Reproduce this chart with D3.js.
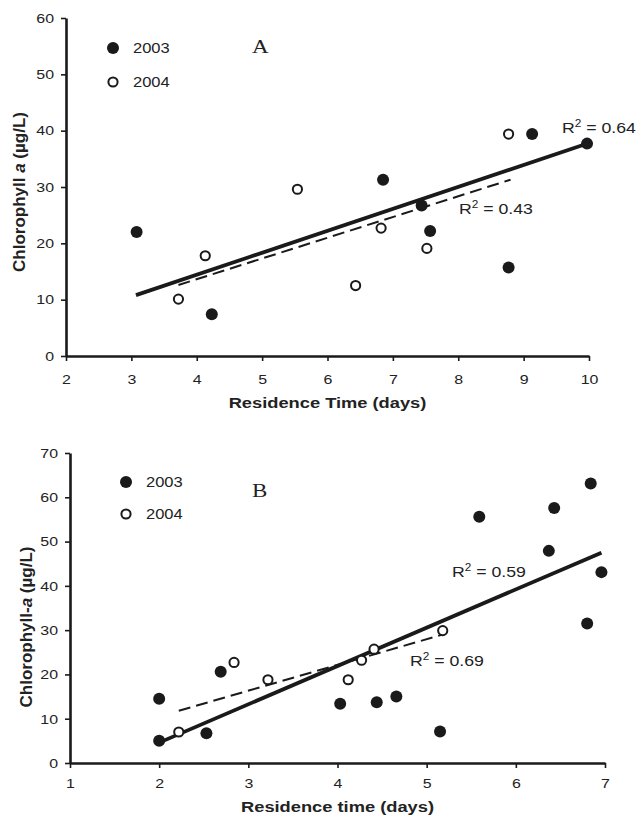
<!DOCTYPE html>
<html>
<head>
<meta charset="utf-8">
<script src="https://cdn.jsdelivr.net/npm/d3@7"></script>
<style>
  body { margin: 0; background: #fff; }
  svg { display: block; }
  text { font-family: 'Liberation Sans', Arial, sans-serif; fill: #222; }
</style>
</head>
<body>
<script>
// ---- panel A : residence time vs chlorophyll a ----
const daysA2003 = [3.08, 4.23, 6.85, 7.44, 7.57, 8.77, 9.13, 9.97]
const chlA2003 = [22.0, 7.4, 31.3, 26.7, 22.2, 15.7, 39.4, 37.7]
const daysA2004 = [3.72, 4.13, 5.54, 6.43, 6.82, 7.52, 8.77]
const chlA2004 = [10.1, 17.8, 29.6, 12.5, 22.7, 19.1, 39.4]
// trend line end points as printed in the figure
const fitA2003 = [[3.07, 10.8], [10.0, 37.8]]
const fitA2004 = [[3.72, 12.6], [8.8, 31.3]]
const xTicksA = [2, 3, 4, 5, 6, 7, 8, 9, 10]
const yTicksA = [0, 10, 20, 30, 40, 50, 60]

// ---- panel B ----
const daysB2003 = [2.0, 2.0, 2.53, 2.69, 4.03, 4.44, 4.66, 5.15, 5.59, 6.37, 6.43, 6.80, 6.84, 6.96]
const chlB2003 = [14.5, 5.0, 6.7, 20.6, 13.4, 13.7, 15.0, 7.1, 55.6, 47.9, 57.6, 31.5, 63.1, 43.1]
const daysB2004 = [2.22, 2.84, 3.22, 4.12, 4.27, 4.41, 5.18]
const chlB2004 = [7.0, 22.7, 18.8, 18.8, 23.2, 25.7, 29.9]
const fitB2003 = [[2.0, 4.6], [6.96, 47.5]]
const fitB2004 = [[2.22, 11.8], [5.18, 29.0]]
const xTicksB = [1, 2, 3, 4, 5, 6, 7]
const yTicksB = [0, 10, 20, 30, 40, 50, 60, 70]

// the printed figure has its lettering a bit wider than a normal font
const STRETCH = 1.18

const svg = d3.select('body').append('svg')
  .attr('width', 637)
  .attr('height', 816)

function zip (xs, ys) {
  return xs.map((v, i) => [v, ys[i]])
}

// text placed at (x, y) and widened horizontally
function wideText (parent, x, y, size) {
  return parent.append('g')
    .attr('transform', `translate(${x},${y}) scale(${STRETCH},1)`)
    .append('text')
    .style('font-size', size)
}

function drawPanel (opt) {
  const x = d3.scaleLinear().domain(opt.xDomain).range(opt.xRange)
  const y = d3.scaleLinear().domain(opt.yDomain).range(opt.yRange)
  const g = svg.append('g')

  // axes
  const xAxis = g.append('g')
    .attr('transform', `translate(0,${opt.yRange[0]})`)
    .call(d3.axisBottom(x).tickValues(opt.xTicks).tickFormat(d3.format('d'))
      .tickSize(5).tickSizeOuter(0).tickPadding(opt.xPad))
  const yAxis = g.append('g')
    .attr('transform', `translate(${opt.xRange[0]},0)`)
    .call(d3.axisLeft(y).tickValues(opt.yTicks).tickFormat(d3.format('d'))
      .tickSize(5).tickSizeOuter(0).tickPadding(7))
  ;[xAxis, yAxis].forEach(a => {
    a.select('.domain').attr('stroke', '#1a1a1a').attr('stroke-width', 2.6)
    a.selectAll('.tick line').attr('stroke', '#1a1a1a').attr('stroke-width', 1.6)
    a.selectAll('.tick text').style('font-size', '13.5px').attr('fill', '#333')
  })
  xAxis.selectAll('.tick text').attr('transform', `scale(${STRETCH},1)`)
  yAxis.selectAll('.tick text')
    .attr('x', -12 / STRETCH)
    .attr('transform', `scale(${STRETCH},1)`)

  // axis titles
  wideText(g, (opt.xRange[0] + opt.xRange[1]) / 2, opt.xTitleY, '15.5px')
    .attr('text-anchor', 'middle')
    .style('font-weight', 'bold')
    .text(opt.xTitle)

  const yt = g.append('text')
    .attr('transform', `translate(${opt.yTitleX},${opt.yTitleY}) rotate(-90)`)
    .attr('text-anchor', 'middle')
    .style('font-size', '17px')
    .style('font-weight', 'bold')
  yt.append('tspan').text(opt.yTitle[0])
  yt.append('tspan').style('font-style', 'italic').text(opt.yTitle[1])
  yt.append('tspan').text(opt.yTitle[2])

  // trend lines
  const line = d3.line().x(d => x(d[0])).y(d => y(d[1]))
  g.append('path').datum(opt.fit2004)
    .attr('d', line)
    .attr('fill', 'none')
    .attr('stroke', '#1a1a1a')
    .attr('stroke-width', 2)
    .attr('stroke-dasharray', '12,6')
  g.append('path').datum(opt.fit2003)
    .attr('d', line)
    .attr('fill', 'none')
    .attr('stroke', '#1a1a1a')
    .attr('stroke-width', 3.8)

  // points
  g.append('g').selectAll('circle')
    .data(opt.pts2004)
    .enter().append('circle')
    .attr('cx', d => x(d[0]))
    .attr('cy', d => y(d[1]))
    .attr('r', 4.6)
    .attr('fill', '#fff')
    .attr('stroke', '#1a1a1a')
    .attr('stroke-width', 2)
  g.append('g').selectAll('circle')
    .data(opt.pts2003)
    .enter().append('circle')
    .attr('cx', d => x(d[0]))
    .attr('cy', d => y(d[1]))
    .attr('r', 6)
    .attr('fill', '#1a1a1a')

  // legend
  const lg = g.append('g')
  lg.append('circle').attr('cx', opt.legend[0]).attr('cy', opt.legend[1]).attr('r', 6).attr('fill', '#1a1a1a')
  lg.append('circle').attr('cx', opt.legend[0]).attr('cy', opt.legend[1] + opt.legendGap).attr('r', 4.6)
    .attr('fill', '#fff').attr('stroke', '#1a1a1a').attr('stroke-width', 2)
  wideText(lg, opt.legend[0] + 20, opt.legend[1] + 5, '14px').text('2003')
  wideText(lg, opt.legend[0] + 20, opt.legend[1] + opt.legendGap + 5, '14px').text('2004')

  // panel letter
  wideText(g, opt.letterPos[0], opt.letterPos[1], '19.5px')
    .style('font-family', "'Liberation Serif', 'Times New Roman', serif")
    .text(opt.letter)

  // R squared labels
  opt.r2.forEach(r => {
    const t = wideText(g, r.pos[0], r.pos[1], '15px')
    t.append('tspan').text('R')
    t.append('tspan').attr('dy', -6).style('font-size', '10px').text('2')
    t.append('tspan').attr('dy', 6).text(' = ' + r.value)
  })
}

drawPanel({
  xDomain: [2, 10], yDomain: [0, 60],
  xRange: [66, 589], yRange: [356, 18],
  xTicks: xTicksA, yTicks: yTicksA, xPad: 13,
  xTitle: 'Residence Time (days)', xTitleY: 408,
  yTitle: ['Chlorophyll ', 'a', ' (µg/L)'], yTitleX: 25, yTitleY: 192,
  pts2003: zip(daysA2003, chlA2003), pts2004: zip(daysA2004, chlA2004),
  fit2003: fitA2003, fit2004: fitA2004,
  legend: [113, 48], legendGap: 34,
  letter: 'A', letterPos: [252, 53],
  r2: [{ pos: [562, 133], value: '0.64' }, { pos: [459, 214], value: '0.43' }]
})

drawPanel({
  xDomain: [1, 7], yDomain: [0, 70],
  xRange: [70, 605], yRange: [763, 453],
  xTicks: xTicksB, yTicks: yTicksB, xPad: 10,
  xTitle: 'Residence time (days)', xTitleY: 812,
  yTitle: ['Chlorophyll-', 'a', '  (µg/L)'], yTitleX: 32, yTitleY: 627,
  pts2003: zip(daysB2003, chlB2003), pts2004: zip(daysB2004, chlB2004),
  fit2003: fitB2003, fit2004: fitB2004,
  legend: [126, 482], legendGap: 32,
  letter: 'B', letterPos: [252, 497],
  r2: [{ pos: [452, 577], value: '0.59' }, { pos: [410, 666], value: '0.69' }]
})
</script>
</body>
</html>
